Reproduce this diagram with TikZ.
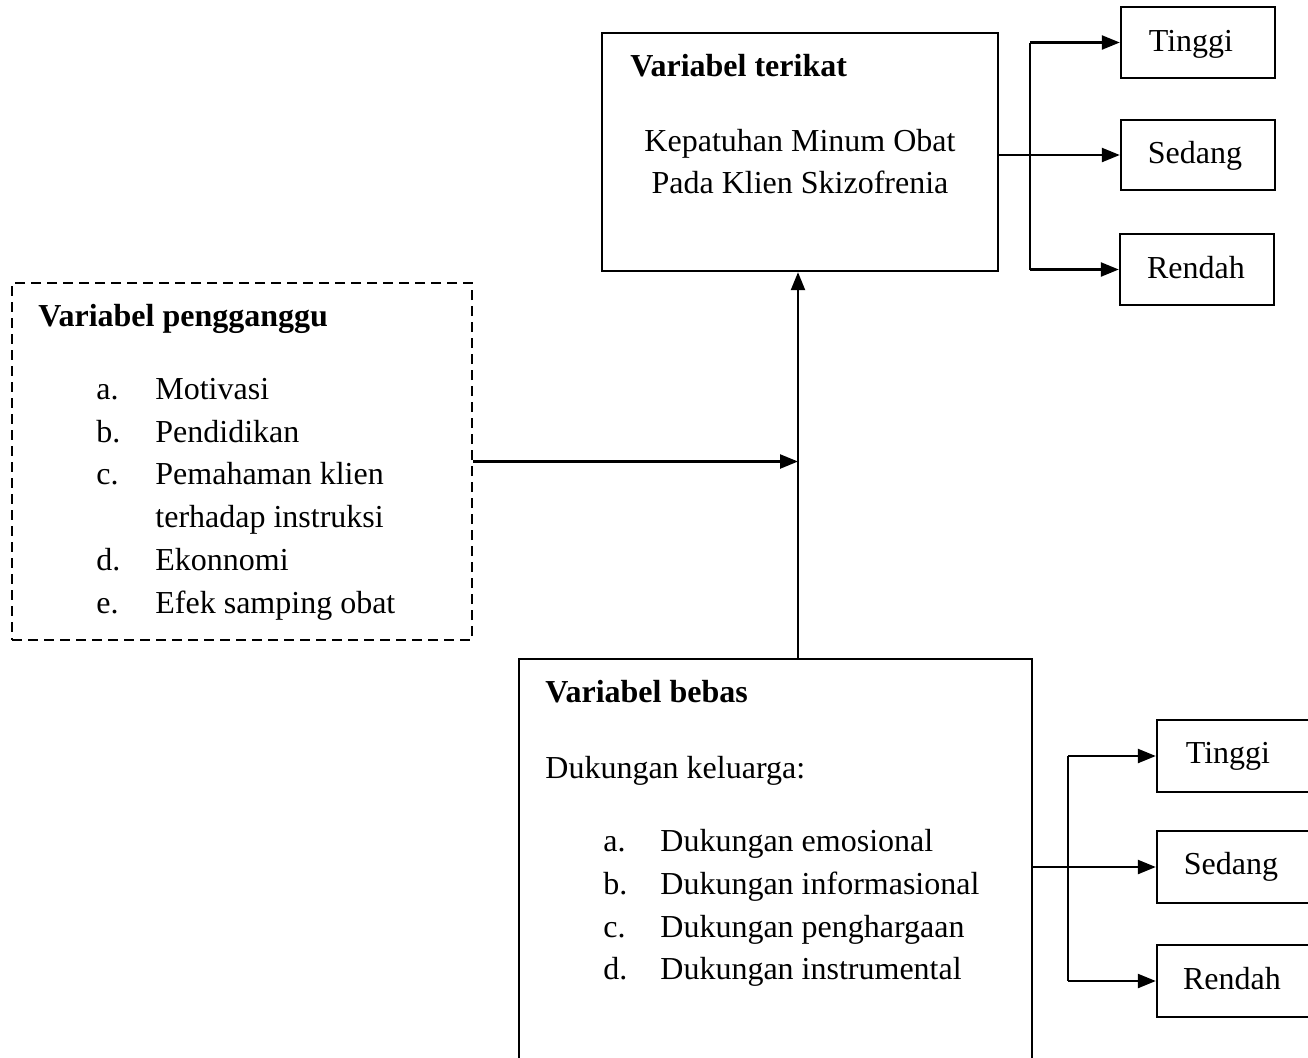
\documentclass[tikz,border=0pt]{standalone}
\usepackage{fontspec}
\setmainfont{Liberation Serif}
\usetikzlibrary{arrows.meta,fit}
\begin{document}
\begin{tikzpicture}[x=0.5pt,y=-0.5pt,
  box/.style={draw,line width=1.2pt,inner sep=0pt},
  dbox/.style={draw,line width=1.1pt,dash pattern=on 5pt off 3pt,inner sep=0pt},
  txt/.style={anchor=base west,inner sep=0pt,font=\fontsize{16}{19}\selectfont},
  ctxt/.style={anchor=base,inner sep=0pt,font=\fontsize{16}{19}\selectfont},
  btxt/.style={txt,font=\fontsize{16}{19}\selectfont\bfseries},
  arr/.style={line width=1.2pt,-{Triangle[length=9pt,width=7pt]}},
  ln/.style={line width=1.2pt}]
\useasboundingbox (0,0) rectangle (1308,1057);
\clip (0,0) rectangle (1308,1057);

% upper: dependent variable
\node[box,fit={(602,33)(998,271)}] (terikat) {};
\node[btxt] (tTerikat) at (630,76) {Variabel terikat};
\node[ctxt] (tKep1) at (800,151) {Kepatuhan Minum Obat};
\node[ctxt] (tKep2) at (800,193) {Pada Klien Skizofrenia};

\node[box,fit={(1121,7)(1275,78)}] (tinggiA) {};
\node[box,fit={(1121,120)(1275,190)}] (sedangA) {};
\node[box,fit={(1120,234)(1274,305)}] (rendahA) {};
\node[ctxt] at (1191,51) {Tinggi};
\node[ctxt] at (1195,163) {Sedang};
\node[ctxt] at (1196,278) {Rendah};

\coordinate (bA) at (1030,0);
\draw[arr] (sedangA.west -| terikat.east) -- (sedangA.west);
\draw[ln] (bA |- tinggiA.west) -- (bA |- rendahA.west);
\draw[arr] (bA |- tinggiA.west) -- (tinggiA.west);
\draw[arr] (bA |- rendahA.west) -- (rendahA.west);

% confounding variable
\node[dbox,fit={(12,283)(472,640)}] (pengganggu) {};
\node[btxt] at (38,326) {Variabel pengganggu};
\node[txt] at (96,399) {a.};
\node[txt] at (155,399) {Motivasi};
\node[txt] at (96,442) {b.};
\node[txt] at (155,442) {Pendidikan};
\node[txt] at (96,484) {c.};
\node[txt] at (155,484) {Pemahaman klien};
\node[txt] at (155,527) {terhadap instruksi};
\node[txt] at (96,570) {d.};
\node[txt] at (155,570) {Ekonnomi};
\node[txt] at (96,613) {e.};
\node[txt] at (155,613) {Efek samping obat};

% independent variable
\node[box,fit={(519,659)(1032,1080)}] (bebas) {};
\node[btxt] at (545,702) {Variabel bebas};
\node[txt] at (545,778) {Dukungan keluarga:};
\node[txt] at (603,851) {a.};
\node[txt] at (660,851) {Dukungan emosional};
\node[txt] at (603,894) {b.};
\node[txt] at (660,894) {Dukungan informasional};
\node[txt] at (603,937) {c.};
\node[txt] at (660,937) {Dukungan penghargaan};
\node[txt] at (603,979) {d.};
\node[txt] at (660,979) {Dukungan instrumental};

\node[box,fit={(1157,720)(1330,792)}] (tinggiB) {};
\node[box,fit={(1157,831)(1330,903)}] (sedangB) {};
\node[box,fit={(1157,945)(1330,1017)}] (rendahB) {};
\node[ctxt] at (1228,763) {Tinggi};
\node[ctxt] at (1231,874) {Sedang};
\node[ctxt] at (1232,989) {Rendah};

\coordinate (bB) at (1068,0);
\draw[arr] (sedangB.west -| bebas.east) -- (sedangB.west);
\draw[ln] (bB |- tinggiB.west) -- (bB |- rendahB.west);
\draw[arr] (bB |- tinggiB.west) -- (tinggiB.west);
\draw[arr] (bB |- rendahB.west) -- (rendahB.west);

% main connectors
\coordinate (vx) at (798,0);
\draw[arr] (vx |- bebas.north) -- (vx |- terikat.south);
\draw[arr] (pengganggu.east) -- (vx |- pengganggu.east);
\end{tikzpicture}
\end{document}
